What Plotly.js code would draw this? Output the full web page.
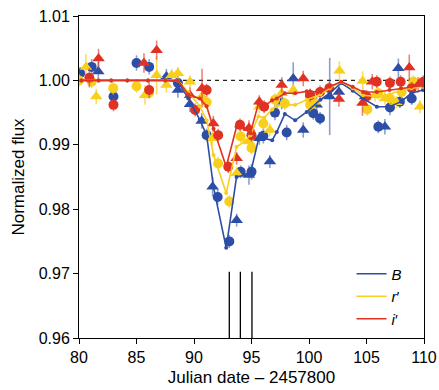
<!DOCTYPE html>
<html><head><meta charset="utf-8">
<script src="https://cdn.plot.ly/plotly-3.0.1.min.js"></script>
<style>html,body{margin:0;padding:0;background:#fff}#chart{width:439px;height:390px}</style>
</head><body><div id="chart"></div>
<script>
// Model light-curve times (Julian date - 2457800)
const modelT = [80.2, 81.7, 82.8, 84.2, 86.0, 87.5, 88.6, 89.5, 90.5, 91.1, 91.7, 92.8, 93.7, 94.4, 94.9, 95.6, 96.1, 96.8, 97.2, 97.9, 98.8, 99.8, 101.0, 101.8, 102.8, 103.8, 104.7, 105.9, 107.0, 108.0, 108.9, 109.9];
const modelB = [1.0000, 1.0000, 1.0000, 1.0000, 1.0000, 1.0000, 0.9998, 0.9972, 0.9939, 0.9915, 0.9834, 0.9740, 0.9850, 0.9853, 0.9855, 0.9908, 0.9910, 0.9907, 0.9920, 0.9948, 0.9938, 0.9951, 0.9970, 0.9980, 0.9996, 0.9984, 0.9972, 0.9959, 0.9959, 0.9967, 0.9980, 0.9985];
const modelR = [1.0000, 1.0000, 1.0000, 1.0000, 1.0000, 1.0000, 1.0000, 0.9982, 0.9960, 0.9938, 0.9884, 0.9825, 0.9897, 0.9905, 0.9915, 0.9944, 0.9942, 0.9955, 0.9960, 0.9962, 0.9962, 0.9970, 0.9978, 0.9988, 0.9998, 0.9988, 0.9977, 0.9975, 0.9978, 0.9985, 0.9988, 0.9990];
const modelI = [1.0000, 1.0000, 1.0000, 1.0000, 1.0000, 1.0000, 1.0000, 0.9978, 0.9972, 0.9960, 0.9925, 0.9866, 0.9928, 0.9925, 0.9918, 0.9964, 0.9960, 0.9969, 0.9972, 0.9980, 0.9980, 0.9983, 0.9982, 0.9990, 0.9998, 0.9990, 0.9982, 0.9982, 0.9985, 0.9988, 0.9990, 0.9992];

// B band observations
const bCircX = [80.1, 81.1, 83.0, 85.0, 86.1, 88.6, 91.1, 92.06, 93.07, 94.06, 95.0, 96.03, 97.04, 98.06, 100.1, 100.37, 100.96, 106.03, 107.04, 107.9, 108.93];
const bCircY = [1.0011, 1.0021, 0.9975, 1.0027, 1.0021, 0.9996, 0.9915, 0.9819, 0.9750, 0.9858, 0.9858, 0.9914, 0.9950, 0.9919, 0.9977, 0.9949, 0.9941, 0.9928, 0.9958, 0.9967, 0.9972];
const bCircE = [0.0010, 0.0012, 0.0010, 0.0012, 0.0012, 0.0012, 0.0010, 0.0012, 0.0010, 0.0010, 0.0012, 0.0012, 0.0012, 0.0012, 0.0010, 0.0010, 0.0010, 0.0010, 0.0012, 0.0010, 0.0010];
const bTriX = [81.68, 87.6, 88.6, 89.65, 90.67, 91.62, 93.71, 94.78, 95.68, 96.6, 97.63, 98.63, 99.5, 100.67, 101.8, 102.6, 104.87, 106.6, 107.77];
const bTriY = [1.0014, 1.0006, 0.9985, 0.9963, 0.9937, 0.9835, 0.9783, 0.9853, 0.9910, 0.9874, 0.9967, 1.0003, 0.9923, 0.9962, 0.9975, 0.9982, 0.9975, 0.9928, 1.0019];
const bTriE = [0.0015, 0.0012, 0.0012, 0.0012, 0.0012, 0.0015, 0.0010, 0.0015, 0.0010, 0.0010, 0.0012, 0.0025, 0.0012, 0.0012, 0.0060, 0.0010, 0.0010, 0.0012, 0.0015];

// r' band observations
const rCircX = [80.0, 81.1, 82.98, 85.0, 86.1, 91.1, 92.1, 93.07, 94.06, 95.0, 96.03, 97.04, 97.9, 100.1, 105.07, 106.03, 107.04, 108.06, 109.07];
const rCircY = [1.0000, 0.9998, 0.9988, 0.9991, 0.9981, 0.9966, 0.9871, 0.9812, 0.9913, 0.9895, 0.9933, 0.9970, 0.9964, 0.9962, 0.9955, 0.9980, 0.9972, 0.9982, 0.9998];
const rCircE = [0.0010, 0.0010, 0.0010, 0.0010, 0.0010, 0.0010, 0.0010, 0.0010, 0.0010, 0.0010, 0.0010, 0.0010, 0.0010, 0.0010, 0.0010, 0.0010, 0.0010, 0.0010, 0.0010];
const rTriX = [80.6, 81.5, 85.74, 86.75, 87.6, 88.06, 88.6, 89.65, 90.67, 91.6, 93.71, 94.78, 95.68, 96.6, 97.63, 98.63, 100.5, 102.65, 104.67, 105.74, 106.6, 107.6, 109.65];
const rTriY = [1.0021, 0.9975, 0.9977, 1.0008, 0.9993, 1.0008, 1.0011, 0.9998, 0.9975, 0.9910, 0.9856, 0.9905, 0.9959, 0.9923, 0.9980, 0.9985, 0.9967, 1.0015, 0.9999, 0.9977, 0.9972, 0.9966, 0.9959];
const rTriE = [0.0020, 0.0012, 0.0015, 0.0030, 0.0012, 0.0010, 0.0010, 0.0010, 0.0010, 0.0012, 0.0010, 0.0012, 0.0010, 0.0010, 0.0010, 0.0010, 0.0010, 0.0015, 0.0015, 0.0010, 0.0010, 0.0010, 0.0010];

// i' band observations
const iCircX = [80.9, 83.0, 86.1, 90.1, 91.1, 92.1, 92.98, 94.0, 95.0, 96.1, 100.1, 100.96, 101.77, 105.0, 105.89, 107.04, 107.97, 108.93, 109.94];
const iCircY = [1.0004, 0.9962, 0.9985, 0.9954, 0.9985, 0.9915, 0.9866, 0.9931, 0.9915, 0.9959, 0.9977, 0.9982, 0.9988, 0.9975, 0.9998, 0.9996, 0.9998, 0.9988, 0.9998];
const iCircE = [0.0015, 0.0010, 0.0012, 0.0010, 0.0010, 0.0010, 0.0010, 0.0010, 0.0010, 0.0010, 0.0010, 0.0010, 0.0010, 0.0010, 0.0010, 0.0010, 0.0010, 0.0010, 0.0010];
const iTriX = [81.7, 85.65, 86.75, 89.65, 90.7, 91.68, 93.71, 94.78, 95.68, 97.63, 99.5, 102.6, 104.65, 105.5, 108.72, 109.5];
const iTriY = [1.0034, 1.0027, 1.0047, 0.9977, 0.9988, 0.9933, 0.9879, 0.9926, 0.9967, 0.9993, 1.0003, 0.9971, 0.9965, 0.9998, 1.0020, 0.9993];
const iTriE = [0.0015, 0.0015, 0.0015, 0.0012, 0.0030, 0.0012, 0.0010, 0.0012, 0.0010, 0.0012, 0.0012, 0.0012, 0.0020, 0.0012, 0.0020, 0.0012];

// Reference epochs marked at the bottom
const epochX = [93.07, 94.03, 95.04];
const epochTop = 0.9703;
const xRange = [80, 110];
const baseline = 1.0;

const legendNames = ['<i>B</i>', '<i>r</i>\u2032', '<i>i</i>\u2032'];

const BLUE = '#2c4ea6', YEL = '#f8cf1c', RED = '#e03224';
const BLUE_E = 'rgba(44,78,166,0.55)', YEL_E = 'rgba(248,207,28,0.7)', RED_E = 'rgba(224,50,36,0.6)';

function obs(x, y, e, color, ecolor, sym, size) {
  return {x: x, y: y, type: 'scatter', mode: 'markers', showlegend: false, hoverinfo: 'skip',
    marker: {color: color, symbol: sym, size: size, line: {width: 0}},
    error_y: {type: 'data', array: e, visible: true, color: ecolor, thickness: 1.6, width: 0}};
}
function model(y, color) {
  return {x: modelT, y: y, type: 'scatter', mode: 'lines+markers', showlegend: false, hoverinfo: 'skip',
    line: {color: color, width: 1.6}, marker: {color: color, size: 4}};
}
function legendOnly(name, color) {
  return {x: [null], y: [null], type: 'scatter', mode: 'lines', name: name,
    line: {color: color, width: 1.6}};
}

const ex = [], ey = [];
epochX.forEach(v => { ex.push(v, v, null); ey.push(0.96, epochTop, null); });

const traces = [
  {x: xRange, y: [baseline, baseline], type: 'scatter', mode: 'lines', showlegend: false, hoverinfo: 'skip',
   line: {color: '#222', width: 1.2, dash: '4px,4px'}},
  {x: ex, y: ey, type: 'scatter', mode: 'lines', showlegend: false, hoverinfo: 'skip',
   line: {color: '#000', width: 1.3}},
  obs(bCircX, bCircY, bCircE, BLUE, BLUE_E, 'circle', 10),
  obs(bTriX, bTriY, bTriE, BLUE, BLUE_E, 'triangle-up', 11),
  obs(rCircX, rCircY, rCircE, YEL, YEL_E, 'circle', 10),
  obs(rTriX, rTriY, rTriE, YEL, YEL_E, 'triangle-up', 11),
  obs(iCircX, iCircY, iCircE, RED, RED_E, 'circle', 10),
  obs(iTriX, iTriY, iTriE, RED, RED_E, 'triangle-up', 11),
  model(modelB, BLUE),
  model(modelR, YEL),
  model(modelI, RED),
  legendOnly(legendNames[0], BLUE),
  legendOnly(legendNames[1], YEL),
  legendOnly(legendNames[2], RED)
];

const font = {family: '"Liberation Sans", Arial, Helvetica, sans-serif', color: '#000'};
const layout = {
  width: 439, height: 390,
  margin: {l: 79, r: 15, t: 16, b: 52, pad: 0},
  paper_bgcolor: '#fff', plot_bgcolor: '#fff',
  font: Object.assign({size: 15}, font),
  showlegend: true,
  legend: {x: 0.79, y: 0.25, xanchor: 'left', yanchor: 'top', bgcolor: 'rgba(0,0,0,0)',
    font: Object.assign({size: 15}, font), tracegroupgap: 0, itemwidth: 30},
  xaxis: {range: xRange, tickvals: [80, 85, 90, 95, 100, 105, 110], ticks: 'outside', ticklen: 5, tickwidth: 1,
    tickcolor: '#000', showline: true, linecolor: '#000', linewidth: 1, mirror: true, showgrid: false, zeroline: false,
    tickfont: Object.assign({size: 16}, font),
    title: {text: 'Julian date \u2013 2457800', font: Object.assign({size: 17}, font), standoff: 5}},
  yaxis: {range: [0.96, 1.01], tickvals: [0.96, 0.97, 0.98, 0.99, 1.00, 1.01], tickformat: '.2f', ticks: 'outside', ticklen: 5,
    tickwidth: 1, tickcolor: '#000', showline: true, linecolor: '#000', linewidth: 1, mirror: true, showgrid: false, zeroline: false,
    tickfont: Object.assign({size: 16}, font),
    title: {text: 'Normalized flux', font: Object.assign({size: 17}, font), standoff: 9}}
};
Plotly.newPlot('chart', traces, layout, {displayModeBar: false, staticPlot: true});
</script></body></html>
